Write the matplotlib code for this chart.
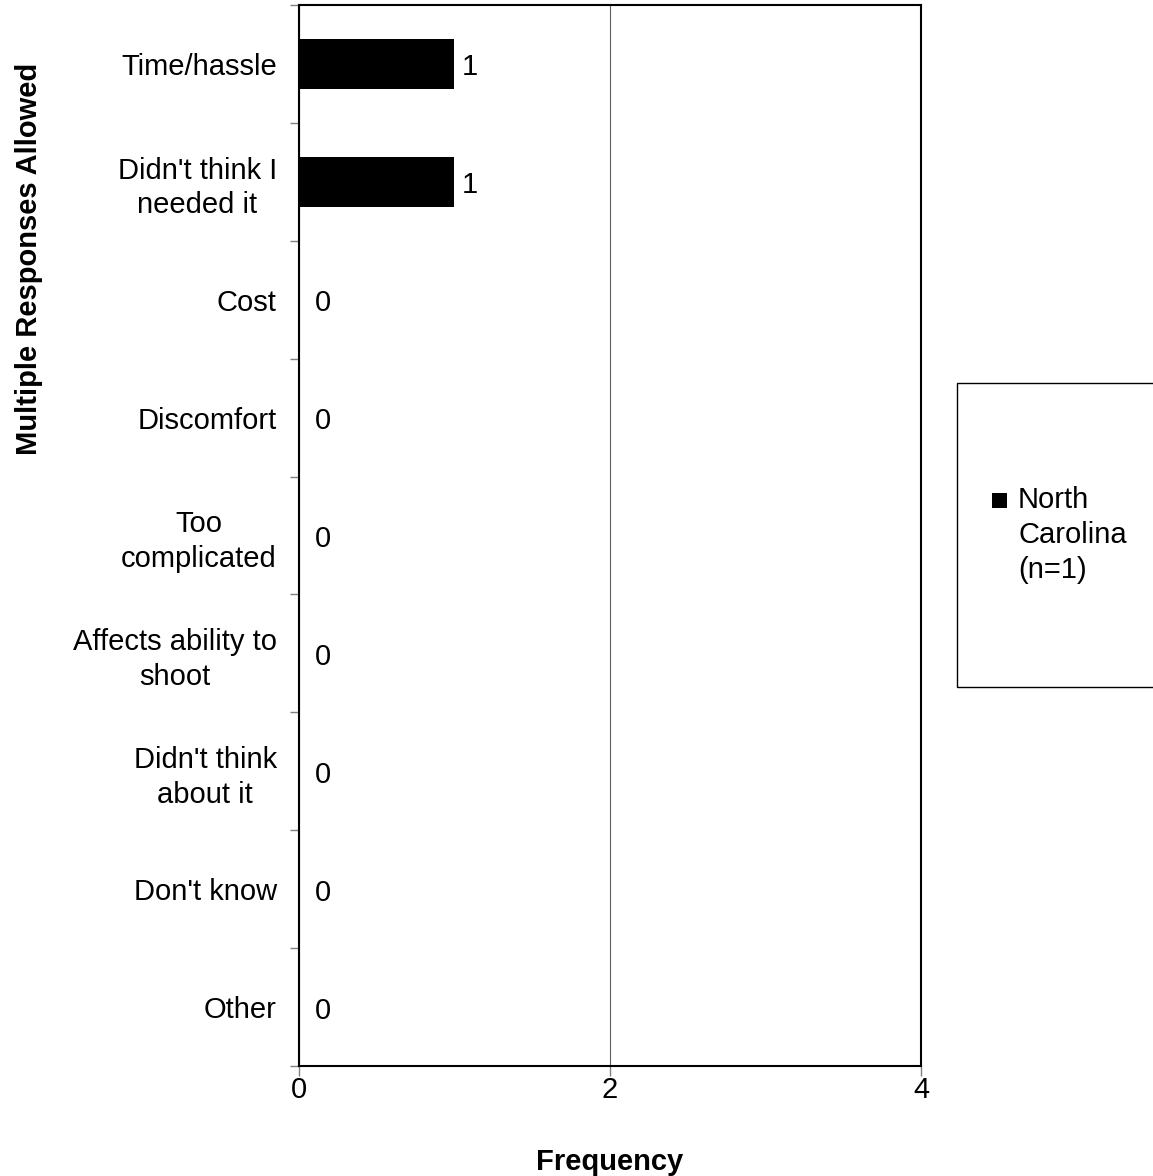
import numpy as np
import matplotlib
matplotlib.use('Agg')
import matplotlib.pyplot as plt
from matplotlib.patches import Rectangle

plt.rcParams['font.family'] = ['Liberation Sans', 'DejaVu Sans']

# Data
categories = ['Time/hassle', "Didn't think I\nneeded it", 'Cost', 'Discomfort',
              'Too\ncomplicated', 'Affects ability to\nshoot', "Didn't think\nabout it",
              "Don't know", 'Other']
values = [1, 1, 0, 0, 0, 0, 0, 0, 0]
series_name = 'North\nCarolina\n(n=1)'
x_ticks = [0, 2, 4]

W, H = 1153, 1176
fig = plt.figure(figsize=(W / 100, H / 100), dpi=100)
ax = fig.add_axes([299 / W, 1 - 1066 / H, 622 / W, 1061 / H])

fs = 21
y = np.arange(len(categories))
ax.barh(y, values, height=0.42, color='black', zorder=3)

# value labels
for yi, v in zip(y, values):
    off = 5 if v > 0 else 11.5
    ax.annotate(str(v), (v, yi), xytext=(off, -2.5), textcoords='offset points',
                ha='left', va='center', fontsize=fs)

ax.set_xlim(0, 4)
ax.set_ylim(len(categories) - 0.5, -0.5)

ax.set_xticks(x_ticks)
ax.set_xticklabels([str(t) for t in x_ticks], fontsize=fs)
ax.tick_params(axis='x', length=7.2, width=1, color='#808080', pad=0)

ax.set_yticks(y)
ax.set_yticklabels(categories, fontsize=fs, multialignment='center', linespacing=1.3)
ax.tick_params(axis='y', which='major', length=0, pad=16)
ax.set_yticks(np.arange(-0.5, len(categories)), minor=True)
ax.tick_params(axis='y', which='minor', length=6.5, width=1, color='#808080')

ax.xaxis.grid(True, color='#606060', linewidth=0.8, zorder=0)
ax.set_axisbelow(True)
for s in ax.spines.values():
    s.set_linewidth(1.5)
    s.set_color('black')

fig.text(610 / W, 1 - 1170 / H, 'Frequency', ha='center', va='baseline',
         fontsize=fs, fontweight='bold')
fig.text(29 / W, 1 - 259 / H, 'Multiple Responses Allowed', ha='center', va='center',
         rotation=90, fontsize=fs, fontweight='bold')

# legend box
fig.patches.append(Rectangle((957 / W, 1 - 687 / H), 220 / W, 304 / H,
                             transform=fig.transFigure, facecolor='white',
                             edgecolor='black', linewidth=1, clip_on=False))
fig.patches.append(Rectangle((992 / W, 1 - 508 / H), 15 / W, 15 / H,
                             transform=fig.transFigure, facecolor='black',
                             edgecolor='black', linewidth=0))
fig.text(1018 / W, 1 - 535 / H, series_name, ha='left', va='center',
         fontsize=fs, linespacing=1.3)

fig.savefig('out.png', dpi=100)
